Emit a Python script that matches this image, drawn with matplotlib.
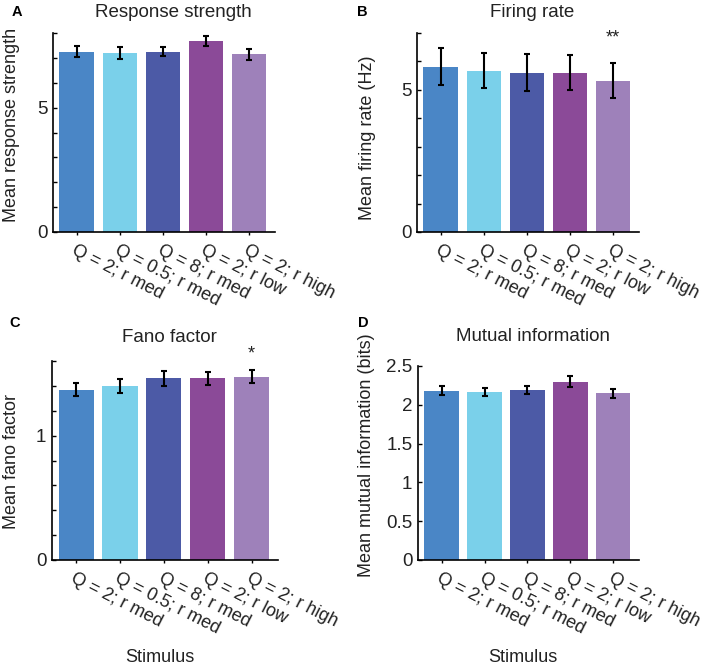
import numpy as np
from matplotlib import pyplot as plt

plt.rcParams['font.family'] = ['Liberation Sans', 'DejaVu Sans']

# stimulus categories and bar colours
stimuli = ["Q = 2; r med", "Q = 0.5; r med", "Q = 8; r med", "Q = 2; r low", "Q = 2; r high"]
colors = ["#4A86C6", "#7AD0EA", "#4C5AA6", "#8B4A98", "#9E81BA"]

# panel values (mean, error)
resp_mean = [7.24, 7.21, 7.25, 7.67, 7.14]
resp_err = [0.22, 0.24, 0.17, 0.21, 0.21]

rate_mean = [5.82, 5.67, 5.61, 5.60, 5.32]
rate_err = [0.64, 0.62, 0.64, 0.62, 0.62]

fano_mean = [1.37, 1.40, 1.46, 1.46, 1.475]
fano_err = [0.05, 0.056, 0.062, 0.055, 0.054]

mi_mean = [2.18, 2.165, 2.19, 2.30, 2.15]
mi_err = [0.056, 0.05, 0.056, 0.07, 0.06]

W, H = 709, 669
fig = plt.figure(figsize=(W / 100, H / 100), dpi=100)

def px_axes(left, right, top, bottom):
    return fig.add_axes([left / W, 1 - bottom / H, (right - left) / W, (bottom - top) / H])

txt = '#222222'

def bar_panel(ax, means, errs, title, title_pos, ylabel, ylabel_pos, ymax, yticks, ylabels,
              xlabel_pos=None):
    x = np.arange(1, len(means) + 1)
    ax.bar(x, means, width=0.8, color=colors, zorder=2)
    ax.errorbar(x, means, yerr=errs, fmt='none', ecolor='black', elinewidth=1.5,
                capsize=2.5, capthick=1.5, zorder=3)
    ax.set_xlim(0.45, 5.6)
    ax.set_ylim(0, ymax)
    ax.set_yticks(yticks)
    ax.set_yticklabels(ylabels)
    ax.set_xticks(x)
    ax.set_xticklabels(stimuli, rotation=-27, ha='left', va='top',
                       rotation_mode='anchor', fontsize=13, color=txt)
    for s in ['top', 'right']:
        ax.spines[s].set_visible(False)
    for s in ['left', 'bottom']:
        ax.spines[s].set_linewidth(1.2)
    ax.tick_params(axis='y', direction='in', length=3, width=1, labelsize=13.5,
                   labelcolor=txt, pad=4)
    ax.tick_params(axis='x', direction='out', length=2, width=1, pad=5)
    ax.text(title_pos[0], title_pos[1], title, transform=ax.transAxes, ha='center',
            va='center', fontsize=13.5, color=txt)
    ax.set_ylabel(ylabel, fontsize=13, color=txt, va='center')
    ax.yaxis.set_label_coords(*ylabel_pos)
    if xlabel_pos:
        ax.set_xlabel("Stimulus", fontsize=13, color=txt, va='center')
        ax.xaxis.set_label_coords(*xlabel_pos)

def sparse(ticks, keep):
    return [('%g' % t) if any(abs(t - k) < 1e-9 for k in keep) else '' for t in ticks]

axA = px_axes(53, 275, 33, 232)
tA = np.arange(0, 9)
bar_panel(axA, resp_mean, resp_err, "Response strength", (0.54, 1.105),
          "Mean response strength", (-0.185, 0.54), 8, tA, sparse(tA, [0, 5]))

axB = px_axes(417, 639, 33, 232)
tB = np.arange(0, 8)
bar_panel(axB, rate_mean, rate_err, "Firing rate", (0.52, 1.105),
          "Mean firing rate (Hz)", (-0.225, 0.475), 7, tB, sparse(tB, [0, 5]))
axB.text(5, rate_mean[4] + rate_err[4] + 0.6, "**", ha='center', va='bottom',
         fontsize=13, color=txt)

axC = px_axes(52, 278, 361, 560)
tC = np.round(np.arange(0, 1.61, 0.2), 1)
bar_panel(axC, fano_mean, fano_err, "Fano factor", (0.52, 1.116),
          "Mean fano factor", (-0.181, 0.495), 1.6, tC, sparse(tC, [0, 1]),
          xlabel_pos=(0.478, -0.49))
axC.text(5, fano_mean[4] + fano_err[4] + 0.062, "*", ha='center', va='bottom',
         fontsize=13, color=txt)

axD = px_axes(418, 639, 366, 560)
tD = np.arange(0, 2.51, 0.5)
bar_panel(axD, mi_mean, mi_err, "Mutual information", (0.52, 1.15),
          "Mean mutual information (bits)", (-0.235, 0.54), 2.5, tD,
          ['%g' % t for t in tD], xlabel_pos=(0.475, -0.505))

for lab, xp, yp in [("A", 17, 12), ("B", 362, 12), ("C", 15, 323), ("D", 363, 323)]:
    fig.text(xp / W, 1 - yp / H, lab, fontsize=10.5, fontweight='bold', ha='center', va='center')

fig.savefig("out.png", dpi=100)
